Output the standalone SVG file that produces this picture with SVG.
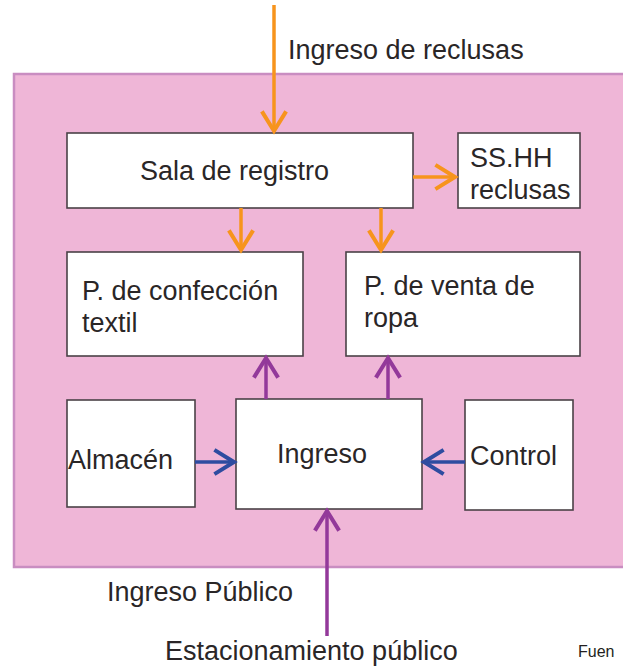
<svg xmlns="http://www.w3.org/2000/svg" width="623" height="670" viewBox="0 0 623 670">
<style>
.bg{fill:#EFB6D7;stroke:#C98DC1;stroke-width:2.5}
.box{fill:#FFFFFF;stroke:#4A4147;stroke-width:1.6}
.t{font-family:"Liberation Sans",Arial,sans-serif;font-size:27px;fill:#2A2627}
.o{stroke:#F7941D;stroke-width:3.5;fill:none}
.p{stroke:#93399A;stroke-width:3.5;fill:none}
.b{stroke:#2E4CA0;stroke-width:3.5;fill:none}
</style>
<defs>
<marker id="mo" markerUnits="userSpaceOnUse" markerWidth="30" markerHeight="30" viewBox="-20 -13 24 26" refX="0" refY="0" orient="auto"><path d="M-17,-10.5 L0,0 L-17,10.5" fill="none" stroke="#F7941D" stroke-width="3.5"/></marker>
<marker id="mp" markerUnits="userSpaceOnUse" markerWidth="30" markerHeight="30" viewBox="-20 -13 24 26" refX="0" refY="0" orient="auto"><path d="M-17,-10.5 L0,0 L-17,10.5" fill="none" stroke="#93399A" stroke-width="3.5"/></marker>
<marker id="mb" markerUnits="userSpaceOnUse" markerWidth="30" markerHeight="30" viewBox="-20 -13 24 26" refX="0" refY="0" orient="auto"><path d="M-17,-10.5 L0,0 L-17,10.5" fill="none" stroke="#2E4CA0" stroke-width="3.5"/></marker>
</defs>
<rect width="623" height="670" fill="#FFFFFF"/>
<rect id="area" class="bg" x="14" y="74" width="640" height="493"/>
<g id="sala"><rect class="box" x="67" y="133" width="346" height="75"/><text class="t" x="140" y="180" font-size="28">Sala de registro</text></g>
<g id="sshh"><rect class="box" x="458" y="133" width="122" height="75"/><text class="t" x="470" y="167" font-size="26">SS.HH</text><text class="t" x="470" y="199" font-size="26">reclusas</text></g>
<g id="confeccion"><rect class="box" x="67" y="252" width="236" height="104"/><text class="t" x="82" y="300">P. de confección</text><text class="t" x="82" y="332">textil</text></g>
<g id="venta"><rect class="box" x="346" y="252" width="234" height="104"/><text class="t" x="364" y="295" font-size="26">P. de venta de</text><text class="t" x="364" y="327" font-size="26">ropa</text></g>
<g id="almacen"><rect class="box" x="67" y="400" width="128" height="107"/><text class="t" x="68" y="469">Almacén</text></g>
<g id="ingreso"><rect class="box" x="236" y="399" width="186" height="110"/><text class="t" x="277" y="463">Ingreso</text></g>
<g id="control"><rect class="box" x="465" y="400" width="108" height="110"/><text class="t" x="470" y="465" font-size="28">Control</text></g>
<g id="labels">
<text class="t" x="288" y="59">Ingreso de reclusas</text>
<text class="t" x="107" y="601">Ingreso Público</text>
<text class="t" x="165" y="660" font-size="27.5">Estacionamiento público</text>
<text x="578" y="657" font-family="Liberation Sans,Arial,sans-serif" font-size="16" fill="#231F20">Fuen</text>
</g>
<g id="connectors">
<line class="o" x1="274" y1="5" x2="274" y2="131" marker-end="url(#mo)"/>
<line class="o" x1="413" y1="177" x2="455" y2="177" marker-end="url(#mo)"/>
<line class="o" x1="241" y1="208" x2="241" y2="250" marker-end="url(#mo)"/>
<line class="o" x1="381" y1="208" x2="381" y2="250" marker-end="url(#mo)"/>
<line class="p" x1="266" y1="399" x2="266" y2="358" marker-end="url(#mp)"/>
<line class="p" x1="388" y1="399" x2="388" y2="358" marker-end="url(#mp)"/>
<line class="p" x1="327" y1="636" x2="327" y2="511" marker-end="url(#mp)"/>
<line class="b" x1="195" y1="462" x2="234" y2="462" marker-end="url(#mb)"/>
<line class="b" x1="465" y1="462" x2="424" y2="462" marker-end="url(#mb)"/>
</g>
</svg>
